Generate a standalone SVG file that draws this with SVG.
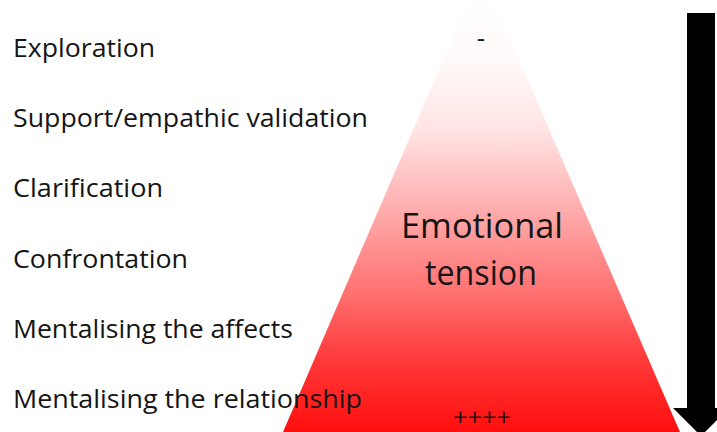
<svg xmlns="http://www.w3.org/2000/svg" width="717" height="432" viewBox="0 0 717 432">
<defs>
<linearGradient id="grad" gradientUnits="userSpaceOnUse" x1="0" y1="0" x2="0" y2="432">
<stop offset="0" stop-color="#FFFFFF"/>
<stop offset="0.15" stop-color="#FFF8F8"/>
<stop offset="0.3" stop-color="#FFE4E4"/>
<stop offset="0.45" stop-color="#FFB8B8"/>
<stop offset="0.68" stop-color="#FF7070"/>
<stop offset="0.83" stop-color="#FF3A3A"/>
<stop offset="1" stop-color="#FF0E0E"/>
</linearGradient>
<style>
.lbl{font-family:"Open Sans","Noto Sans",sans-serif;font-size:26px;fill:#151515;}
.big{font-family:"Open Sans","Noto Sans",sans-serif;font-size:35px;fill:#151515;text-anchor:middle;}
.mark{font-family:"Open Sans","Noto Sans",sans-serif;font-size:24px;fill:#151515;text-anchor:middle;}
</style>
</defs>
<g id="triangle">
<polygon points="481,-28 283,432 680,432" fill="url(#grad)"/>
</g>
<g id="labels">
<text class="lbl" x="13" y="57" textLength="142" lengthAdjust="spacingAndGlyphs">Exploration</text>
<text class="lbl" x="13" y="127" textLength="355" lengthAdjust="spacingAndGlyphs">Support/empathic validation</text>
<text class="lbl" x="13" y="197" textLength="150" lengthAdjust="spacingAndGlyphs">Clarification</text>
<text class="lbl" x="13" y="268" textLength="175" lengthAdjust="spacingAndGlyphs">Confrontation</text>
<text class="lbl" x="13" y="338" textLength="280" lengthAdjust="spacingAndGlyphs">Mentalising the affects</text>
<text class="lbl" x="13" y="408" textLength="349" lengthAdjust="spacingAndGlyphs">Mentalising the relationship</text>
</g>
<g id="tension-label">
<text class="big" x="482" y="238" textLength="162" lengthAdjust="spacingAndGlyphs">Emotional</text>
<text class="big" x="481" y="285" textLength="112" lengthAdjust="spacingAndGlyphs">tension</text>
</g>
<g id="top-mark">
<text class="lbl" x="481" y="47" text-anchor="middle">-</text>
</g>
<g id="bottom-mark">
<text class="mark" x="482" y="426" textLength="58" lengthAdjust="spacingAndGlyphs">++++</text>
</g>
<g id="connectors">
<polygon points="687,13 715,13 715,408 729,408 701,436 673,408 687,408" fill="#000"/>
</g>
</svg>
